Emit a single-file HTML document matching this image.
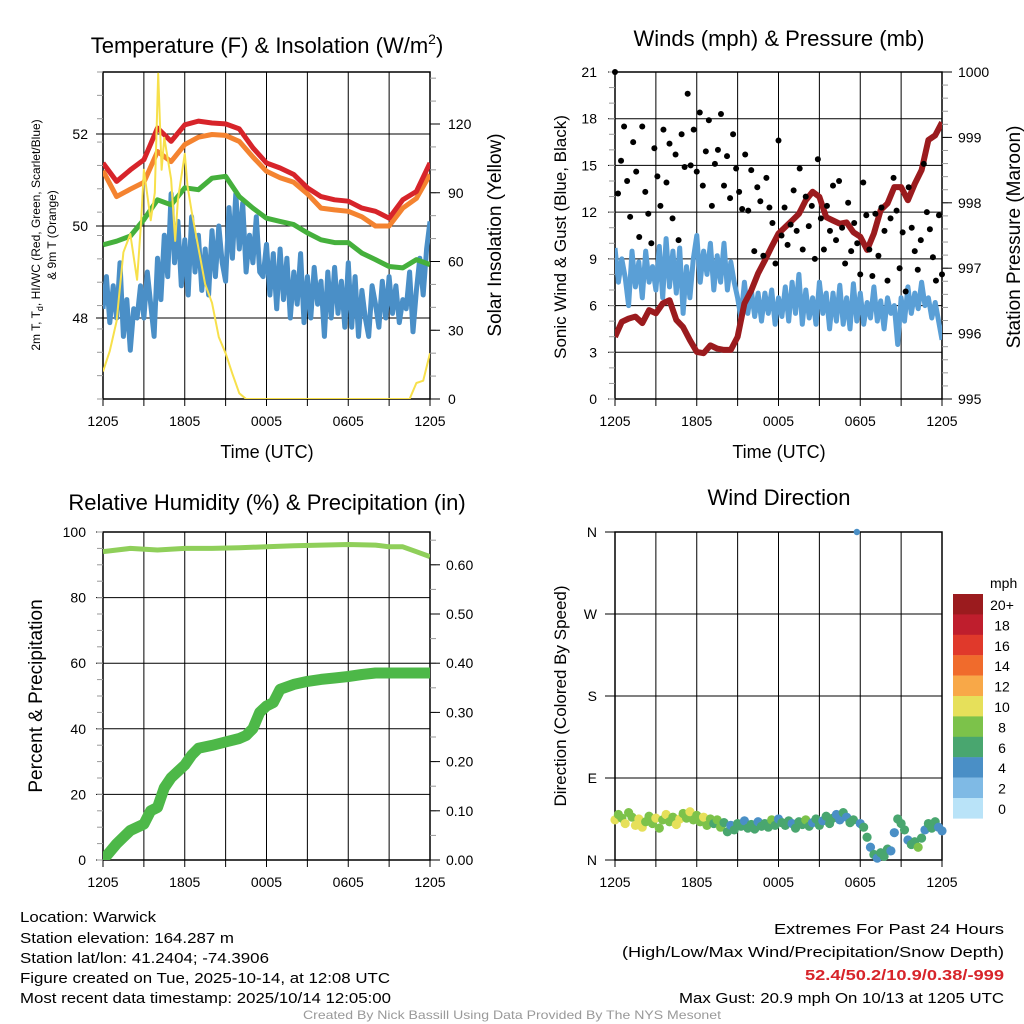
<!DOCTYPE html>
<html><head><meta charset="utf-8">
<style>
html,body{margin:0;padding:0;background:#fff;}
svg{display:block;font-family:"Liberation Sans",sans-serif;}
</style></head>
<body>
<svg id="fig" width="1024" height="1024" viewBox="0 0 1024 1024" xmlns="http://www.w3.org/2000/svg">
<defs>
<clipPath id="c1"><rect x="103" y="72" width="327" height="327"/></clipPath>
<clipPath id="c2"><rect x="615" y="72" width="327" height="327"/></clipPath>
<clipPath id="c3"><rect x="103" y="532" width="327" height="328"/></clipPath>
<clipPath id="c4"><rect x="610" y="527" width="337" height="338"/></clipPath>
</defs>
</svg>
<script>
// ---------- DATA ----------
const timeTicks = ["1205","1805","0005","0605","1205"];
// Temperature panel (hourly, F)
const tempRed = [51.37,50.97,51.22,51.44,52.13,51.84,52.2,52.28,52.24,52.22,52.11,51.7,51.37,51.26,51.12,50.83,50.64,50.57,50.54,50.39,50.32,50.17,50.57,50.75,51.37];
const tempOrange = [51.2,50.64,50.8,50.95,51.62,51.4,51.77,51.93,51.99,51.97,51.84,51.5,51.19,51.05,50.95,50.7,50.39,50.35,50.32,50.2,50.0,50.0,50.39,50.6,51.12];
const tempGreen = [49.59,49.67,49.78,50.14,50.57,50.46,50.83,50.79,51.04,51.08,50.64,50.39,50.17,50.1,50.03,49.85,49.7,49.64,49.64,49.41,49.27,49.12,49.09,49.27,49.16];
const tempBlue = [48.2,48.9,47.9,48.7, 48.0,49.2,47.6,48.4, 47.3,48.2,48.0,48.7, 48.0,49.0,48.3,47.6, 49.3,48.4,49.8,48.9, 50.7,49.2,50.1,48.7, 49.7,48.5,50.2,49.0, 49.8,48.6,49.5,48.5, 49.9,48.9,50.0,49.2, 48.8,50.4,49.3,50.7, 49.5,50.5,49.0,49.8, 49.2,50.2,49.0,48.9, 49.6,48.5,49.4,48.2, 49.5,48.4,49.3,48.0, 49.0,48.3,49.4,47.9, 48.9,48.0,49.1,48.3, 48.8,47.6,49.0,48.0, 49.1,48.1,48.8,47.8, 49.2,47.8,48.9,47.6, 48.6,48.0,47.6,48.7, 48.3,47.8,48.8,48.0, 48.9,48.1,48.7,47.9, 48.4,48.2,49.0,47.7, 48.6,49.3,48.5,49.5, 50.1];
const solarHours = [0,0.5,1,1.5,2,2.5,2.8,3,3.5,3.8,4.05,4.3,4.5,5,5.3,5.5,6,6.2,6.5,7,7.5,8,8.5,9,9.5,10,10.5,22.5,23,23.5,24];
const solarValues = [12,21,34,64,72,52,78,100,78,90,142,100,114,96,69,87,107,93,82,66,50,42,27,20,11,2.5,0,0,7,8,20];
const tempLeftTicks = [48,50,52];
const solarTicks = [0,30,60,90,120];
// Winds panel
const windSpeed = [9.7,7.5,9,7.8, 6,9.5,7.2,8.8, 6.5,9.5,7.5,8.5, 7,9.8,6.5,10.3, 7.2,9.5,6.8,9.7, 5.5,8.5,6.5,9, 10.5,7.5,9.5,8, 10,7,9.2,7.5, 10,7,8.8,7.5, 6.5,5.2,7.5,5.5, 7,5.3,6.8,5, 6.8,5.5,7,4.8, 6.5,5.3,7.2,5, 7.5,5.5,8,4.8, 7,5.2,6.5,4.8, 7.5,5.5,6.8,4.5, 6.8,5,7.3,4.8, 6.5,4.5,7.4,5, 6.8,4.8,6.2,5.2, 7.2,5,6.3,4.5, 6.5,5.5,6,3.5, 6.5,5,7.2,5.5, 6.8,5.8,7.5,6, 6.5,5.2,6.2,5, 3.8];
const windGust = [21,13.2,15.3,17.5,14,11.7,16.5,14.6,10.4,17.5,13.3,11.9,10,16.1,14.3,12.4,17.3,13.9,16.4,11.6,15.7,10.2,17,14.9,19.6,15,17.3,14.6,18.4,13.7,15.9,17.9,12.4,15.1,16,18.3,13.7,15.6,12.9,17,14.8,13.3,12.2,15.7,12.1,14.7,9.5,13.6,12.7,9.2,14.2,12.3,11.3,8.7,16.6,10.5,12.3,9.9,11.2,13.4,10.8,14.8,9.6,13,11.1,12.4,9,15.4,11.6,9.6,12.4,10.8,13.7,10.2,14,11,8.7,12.6,9.5,11.3,10,8,13.9,11.8,9.6,7.9,11.9,9.2,12.3,10.8,7.6,11.6,14.2,12.1,8.4,10.7,6.9,13.6,11,9.5,8.3,10.2,15.1,12,10.9,9.1,7.6,11.8,8];
const pressure = [995.95,996.18,996.23,996.26,996.16,996.36,996.31,996.46,996.51,996.21,996.1,995.9,995.72,995.7,995.82,995.77,995.75,995.75,995.95,996.46,996.66,996.92,997.12,997.33,997.53,997.63,997.73,997.83,998.04,998.17,998.09,997.78,997.73,997.68,997.7,997.55,997.48,997.28,997.53,997.89,997.99,998.24,998.24,998.04,998.29,998.5,998.96,999.03,999.23];
const windTicks = [0,3,6,9,12,15,18,21];
const pressTicks = [995,996,997,998,999,1000];
// Humidity / precip panel
const humHours = [0,2,4,6,8,10,12,14,16,18,20,21,22,23,24];
const humidity = [94,95,94.5,95,95,95.2,95.5,95.8,96,96.2,96,95.5,95.5,94,92.5];
const precipHours = [0,1,2,3,3.5,4,4.5,5,5.5,6,6.5,7,8,9,10,10.5,11,11.5,12,12.5,13,14,15,16,17,18,19,20,24];
const precip = [0,0.033,0.06,0.073,0.1,0.107,0.147,0.167,0.18,0.193,0.213,0.227,0.233,0.24,0.247,0.253,0.267,0.3,0.313,0.32,0.347,0.357,0.363,0.367,0.37,0.373,0.377,0.38,0.38];
const humTicks = [0,20,40,60,80,100];
const precipTicks = ["0.00","0.10","0.20","0.30","0.40","0.50","0.60"];
// Wind direction panel
const dirDeg = [44,50,46,40,52,47,38,45,36,42,48,40,46,35,44,50,42,47,39,45,51,46,53,44,49,42,47,38,45,40,44,36,41,31,38,33,40,37,43,35,39,34,42,37,40,36,44,38,45,41,38,43,40,35,42,39,44,37,41,45,38,43,48,40,46,50,44,52,47,41,44,360,40,36,25,14,6,2,8,4,12,10,30,45,40,33,22,17,20,14,24,33,40,35,42,36,32];
const dirSpeed = [10,9,8,10,9,8,10,11,10,9,8,9,10,8,9,10,8,9,11,10,9,8,10,9,8,9,10,9,8,7,9,8,6,7,5,6,7,6,5,6,7,6,5,7,6,7,8,6,5,6,7,6,5,7,6,7,8,6,5,7,6,5,6,7,6,5,4,6,5,6,7,5,5,6,7,4,6,5,6,7,6,4,5,6,7,6,5,7,6,8,6,5,6,7,6,5,4];
const dirTicks = ["N","E","S","W","N"];
const legendLabels = ["20+","18","16","14","12","10","8","6","4","2","0"];
const legendColors = ["#9b1b1e","#bf1e2d","#e0392b","#f06b2c","#f8a848","#e6e05a","#7cc24a","#49a66f","#4a8fc6","#7fbae5","#b9e3f8"];

// ---------- helpers ----------
const NS = "http://www.w3.org/2000/svg";
const svg = document.getElementById("fig");
function mk(tag, attrs, parent) {
  const e = document.createElementNS(NS, tag);
  for (const k in attrs) e.setAttribute(k, attrs[k]);
  (parent || svg).appendChild(e);
  return e;
}
function txt(str, x, y, size, anchor, parent, extra) {
  const e = mk("text", Object.assign({x: x, y: y, "font-size": size, "text-anchor": anchor || "middle", fill: "#000"}, extra || {}), parent);
  e.textContent = str;
  return e;
}
function panelX(x0) { return t => x0 + t * 327 / 24; }
function even(n) { const a = []; for (let i = 0; i < n; i++) a.push(i * 24 / (n - 1)); return a; }
function pathD(xs, ys) { return xs.map((x, i) => (i ? "L" : "M") + x.toFixed(1) + " " + ys[i].toFixed(1)).join(" "); }

function frame(x0, y0, h, name) {
  const g = mk("g", {});
  
  
  for (let k = 1; k < 8; k++) {
    const x = x0 + k * 327 / 8;
    mk("line", {x1: x, y1: y0, x2: x, y2: y0 + h, stroke: "#000", "stroke-width": 1}, g);
  }
  for (let k = 0; k <= 8; k++) {
    const x = x0 + k * 327 / 8;
    mk("line", {x1: x, y1: y0 + h, x2: x, y2: y0 + h + 7, stroke: "#000", "stroke-width": 1}, g);
  }
  mk("rect", {x: x0, y: y0, width: 327, height: h, fill: "none", stroke: "#000", "stroke-width": 1.5}, g);
  timeTicks.forEach((s, i) => {
    const lbl = txt(s, x0 + i * 327 / 4, y0 + h + 27, 14, "middle", g);
    
    
  });
  return g;
}
function hgrid(g, x0, y) {
  mk("line", {x1: x0, y1: y, x2: x0 + 327, y2: y, stroke: "#000", "stroke-width": 1}, g);
}
function minorTicks(g, x, yTop, yBot, n, dir) {
  for (let i = 0; i <= n; i++) {
    const y = yTop + (yBot - yTop) * i / n;
    mk("line", {x1: x, y1: y, x2: x + dir * 6, y2: y, stroke: "#999", "stroke-width": 1}, g);
  }
}

// ---------- Titles ----------
let t1 = txt("", 267, 53, 22, "middle");


t1.innerHTML = 'Temperature (F) &amp; Insolation (W/m<tspan dy="-9" font-size="14">2</tspan><tspan dy="9">)</tspan>';
let t2 = txt("Winds (mph) & Pressure (mb)", 779, 46, 22, "middle");


let t3 = txt("Relative Humidity (%) & Precipitation (in)", 267, 510, 22, "middle");


let t4 = txt("Wind Direction", 779, 505, 22, "middle");



// ---------- Panel 1: Temperature ----------
{
  const x = panelX(103);
  const yL = v => 318 - (v - 48) * 46;
  const yR = v => 399 - v * 275 / 120;
  const g = frame(103, 72, 327, "temperature-plot");
  tempLeftTicks.forEach(v => {
    hgrid(g, 103, yL(v));
    mk("line", {x1: 96, y1: yL(v), x2: 103, y2: yL(v), stroke: "#000"}, g);
    const l = txt(String(v), 88, yL(v) + 5, 14, "end", g);
    
    
  });
  minorTicks(g, 103, 72, 399, 14, -1);
  minorTicks(g, 430, yR(140), 399, 14, 1);
  solarTicks.forEach(v => {
    mk("line", {x1: 430, y1: yR(v), x2: 440, y2: yR(v), stroke: "#000"}, g);
    const l = txt(String(v), 448, yR(v) + 5, 14, "start", g);
    
    
  });
  const pg = mk("g", {"clip-path": "url(#c1)"});
  const hx = even(25);
  const bx = even(tempBlue.length);
  let p = mk("path", {d: pathD(bx.map(x), tempBlue.map(yL)), fill: "none", stroke: "#4a8fc7", "stroke-width": 5, "stroke-linejoin": "round"}, pg);
  
  
  p = mk("path", {d: pathD(hx.map(x), tempGreen.map(yL)), fill: "none", stroke: "#45b03c", "stroke-width": 5, "stroke-linejoin": "round"}, pg);
  
  
  p = mk("path", {d: pathD(hx.map(x), tempOrange.map(yL)), fill: "none", stroke: "#f48330", "stroke-width": 5, "stroke-linejoin": "round"}, pg);
  
  
  p = mk("path", {d: pathD(hx.map(x), tempRed.map(yL)), fill: "none", stroke: "#d7242a", "stroke-width": 5, "stroke-linejoin": "round"}, pg);
  
  
  p = mk("path", {d: pathD(solarHours.map(x), solarValues.map(yR)), fill: "none", stroke: "#f7e04b", "stroke-width": 2, "stroke-linejoin": "round"}, pg);
  
  
  let a = txt("Time (UTC)", 267, 458, 18, "middle");
  
  
  a = mk("text", {x: 0, y: 0, "font-size": 12, "text-anchor": "middle", transform: "translate(40,235) rotate(-90)"});
  
  
  a.innerHTML = '2m T, T<tspan dy="3" font-size="9">d</tspan><tspan dy="-3">, HI/WC (Red, Green, Scarlet/Blue)</tspan>';
  a = txt("& 9m T (Orange)", 0, 0, 12, "middle", null, {transform: "translate(56,235) rotate(-90)"});
  
  
  a = txt("Solar Insolation (Yellow)", 0, 0, 19, "middle", null, {transform: "translate(501,235) rotate(-90)"});
  
  
}

// ---------- Panel 2: Winds ----------
{
  const x = panelX(615);
  const yW = v => 399 - v * 327 / 21;
  const yP = v => 399 - (v - 995) * 327 / 5;
  const g = frame(615, 72, 327, "winds-plot");
  windTicks.forEach(v => {
    hgrid(g, 615, yW(v));
    mk("line", {x1: 608, y1: yW(v), x2: 615, y2: yW(v), stroke: "#000"}, g);
    const l = txt(String(v), 597, yW(v) + 5, 14, "end", g);
    
    
  });
  minorTicks(g, 615, 72, 399, 21, -1);
  minorTicks(g, 942, 72, 399, 25, 1);
  pressTicks.forEach(v => {
    mk("line", {x1: 942, y1: yP(v), x2: 952, y2: yP(v), stroke: "#000"}, g);
    const l = txt(String(v), 958, yP(v) + 5, 14, "start", g);
    
    
  });
  const pg = mk("g", {"clip-path": "url(#c2)"});
  let p = mk("path", {d: pathD(even(windSpeed.length).map(x), windSpeed.map(yW)), fill: "none", stroke: "#5a9fd6", "stroke-width": 5, "stroke-linejoin": "round"}, pg);
  
  
  p = mk("path", {d: pathD(even(pressure.length).map(x), pressure.map(yP)), fill: "none", stroke: "#9b1b1e", "stroke-width": 6, "stroke-linejoin": "round"}, pg);
  
  
  const gx = even(windGust.length);
  windGust.forEach((v, i) => {
    const c = mk("circle", {cx: x(gx[i]), cy: yW(v), r: 3, fill: "#000"}, svg);
    
    
  });
  let a = txt("Time (UTC)", 779, 458, 18, "middle");
  
  
  a = txt("Sonic Wind & Gust (Blue, Black)", 0, 0, 17, "middle", null, {transform: "translate(566,237) rotate(-90)"});
  
  
  a = txt("Station Pressure (Maroon)", 0, 0, 19, "middle", null, {transform: "translate(1020,237) rotate(-90)"});
  
  
}

// ---------- Panel 3: Humidity & Precip ----------
{
  const x = panelX(103);
  const yH = v => 860 - v * 3.28;
  const yPr = v => 860 - v * 492;
  const g = frame(103, 532, 328, "humidity-plot");
  humTicks.forEach(v => {
    hgrid(g, 103, yH(v));
    mk("line", {x1: 96, y1: yH(v), x2: 103, y2: yH(v), stroke: "#000"}, g);
    const l = txt(String(v), 86, yH(v) + 5, 14, "end", g);
    
    
  });
  minorTicks(g, 103, 532, 860, 20, -1);
  minorTicks(g, 430, yPr(0.65), 860, 13, 1);
  precipTicks.forEach(s => {
    const v = parseFloat(s);
    mk("line", {x1: 430, y1: yPr(v), x2: 440, y2: yPr(v), stroke: "#000"}, g);
    const l = txt(s, 446, yPr(v) + 5, 14, "start", g);
    
    
  });
  const pg = mk("g", {"clip-path": "url(#c3)"});
  let p = mk("path", {d: pathD(humHours.map(x), humidity.map(yH)), fill: "none", stroke: "#8fcf5a", "stroke-width": 5, "stroke-linejoin": "round"}, pg);
  
  
  p = mk("path", {d: pathD(precipHours.map(x), precip.map(yPr)), fill: "none", stroke: "#4db848", "stroke-width": 11, "stroke-linejoin": "round", "stroke-linecap": "round"}, pg);
  
  
  let a = txt("Percent & Precipitation", 0, 0, 19, "middle", null, {transform: "translate(42,696) rotate(-90)"});
  
  
}

// ---------- Panel 4: Wind Direction ----------
{
  const x = panelX(615);
  const yD = d => 860 - d * 328 / 360;
  const g = frame(615, 532, 328, "wind-direction-plot");
  dirTicks.forEach((s, i) => {
    const y = 860 - i * 82;
    hgrid(g, 615, y);
    mk("line", {x1: 605, y1: y, x2: 615, y2: y, stroke: "#000"}, g);
    const l = txt(s, 597, y + 5, 14, "end", g);
    
    
  });
  const pg = mk("g", {"clip-path": "url(#c4)"});
  const dx = even(dirDeg.length);
  function col(s) { let k = Math.min(10, Math.floor(s / 2)); return legendColors[10 - k]; }
  dirDeg.forEach((d, i) => {
    const c = mk("circle", {cx: x(dx[i]), cy: yD(d), r: d > 300 ? 3.2 : 4.6, fill: col(dirSpeed[i])}, pg);
    
    
  });
  let a = txt("Direction (Colored By Speed)", 0, 0, 17, "middle", null, {transform: "translate(566,696) rotate(-90)"});
  
  
  const lg = mk("g", {});
  
  
  let m = txt("mph", 990, 588, 14, "start", lg);
  
  
  legendLabels.forEach((s, i) => {
    const y = 594 + i * 20.4;
    const r = mk("rect", {x: 953, y: y, width: 30, height: 20.6, fill: legendColors[i]}, lg);
    
    
    const l = txt(s, 1002, y + 16, 14, "middle", lg);
    
    
  });
}

// ---------- Footer text ----------
{
  const info = [
    ["Location: Warwick", 922, 136],
    ["Station elevation: 164.287 m", 943, 214],
    ["Station lat/lon: 41.2404; -74.3906", 963, 249],
    ["Figure created on Tue, 2025-10-14, at 12:08 UTC", 983, 370],
    ["Most recent data timestamp: 2025/10/14 12:05:00", 1003, 371]
  ];
  info.forEach(r => {
    const e = txt(r[0], 20, r[1], 15, "start", null, {textLength: r[2], lengthAdjust: "spacingAndGlyphs"});
    
    
  });
  const ext = [
    ["Extremes For Past 24 Hours", 934, 774, "#000", "normal"],
    ["(High/Low/Max Wind/Precipitation/Snow Depth)", 957, 622, "#000", "normal"],
    ["52.4/50.2/10.9/0.38/-999", 980, 805, "#d7242a", "bold"],
    ["Max Gust: 20.9 mph On 10/13 at 1205 UTC", 1003, 679, "#000", "normal"]
  ];
  ext.forEach(r => {
    const e = txt(r[0], r[2], r[1], 15, "start", null, {textLength: 1004 - r[2], lengthAdjust: "spacingAndGlyphs", fill: r[3], "font-weight": r[4]});
    
    
  });
  const f = txt("Created By Nick Bassill Using Data Provided By The NYS Mesonet", 303, 1019, 12, "start", null, {textLength: 418, lengthAdjust: "spacingAndGlyphs", fill: "#999"});
  
  
}
</script>
</body></html>
